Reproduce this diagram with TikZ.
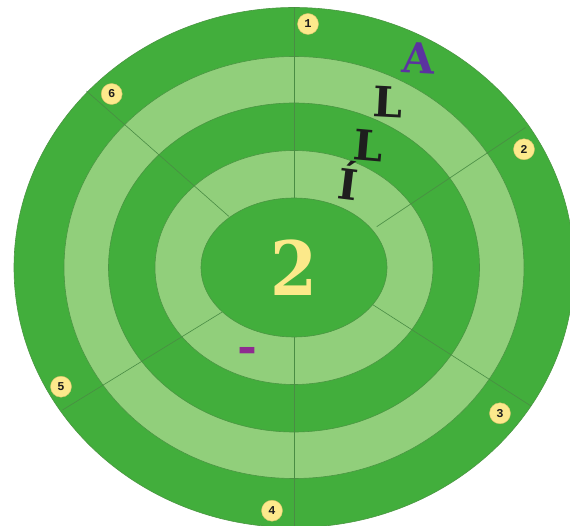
\documentclass[tikz,border=0pt]{standalone}
\usepackage{fontspec}
\newfontfamily\slabfont{DejaVu Serif}
\newfontfamily\discfont{Liberation Mono}
\usepackage{xcolor}
\usepackage{tikz}
\usetikzlibrary{calc, positioning}
\definecolor{darkturf}{HTML}{42AE3C}
\definecolor{lightturf}{HTML}{91CF7B}
\definecolor{rimline}{HTML}{4A9642}
\definecolor{spokeline}{HTML}{4A8C44}
\definecolor{discfill}{HTML}{FDE98C}
\definecolor{discrim}{HTML}{D9C36A}
\definecolor{yolk}{HTML}{FCE98A}
\definecolor{grape}{HTML}{5B33A0}
\definecolor{plum}{HTML}{8E2B90}
\definecolor{ink}{HTML}{1E1E1E}
\tikzset{
  ring/.style={draw=rimline, line width=0.6pt},
  spoke/.style={draw=spokeline, line width=0.6pt},
  numdisc/.style={circle,fill=discfill,draw=discrim,line width=0.4pt,inner sep=0pt,minimum size=21pt,text=ink,font=\discfont\bfseries\fontsize{12}{12}\selectfont},
  ringletter/.style={inner sep=0pt,text=ink,font=\slabfont\bfseries\fontsize{42}{42}\selectfont}
}

\begin{document}
\begin{tikzpicture}[x=1pt, y=-1pt]
  \useasboundingbox (0,0) rectangle (570,526);
  \clip (0,0) rectangle (570,526);
  \coordinate (C) at (294,267.5);
  % rings, outside in
  \filldraw[ring, fill=darkturf] (C) ellipse [x radius=280, y radius=260];
  \filldraw[ring, fill=lightturf] (C) ellipse [x radius=230, y radius=211];
  \filldraw[ring, fill=darkturf] (C) ellipse [x radius=185.5, y radius=164.5];
  \filldraw[ring, fill=lightturf] (C) ellipse [x radius=139, y radius=117];
  % spokes
  \draw[spoke] (294,7.5) -- (294,527.5);
  \draw[spoke] (376.7,226.7) -- (525.5,127.5);
  \draw[spoke] (371.7,304) -- (531,406);
  \draw[spoke] (221.7,312.3) -- (62.5,410);
  \draw[spoke] (229,216.5) -- (86.5,91);
  \filldraw[ring, fill=darkturf] (C) ellipse [x radius=93, y radius=69.5];
  % numbers round the rim
  \node[numdisc] (n1) at (308,24) {1};
  \node[numdisc] (n2) at (524,149.3) {2};
  \node[numdisc] (n3) at (500,413.3) {3};
  \node[numdisc] (n4) at (272,510.7) {4};
  \node[numdisc] (n5) at (61,386.7) {5};
  \node[numdisc] (n6) at (111.7,94) {6};
  % letters
  \node[inner sep=0pt, text=yolk, xscale=0.9, font=\slabfont\bfseries\fontsize{75}{75}\selectfont] (score) at (C) {2};
  \node[ringletter, text=grape, rotate=-3] (la) at (419,58) {A};
  \node[ringletter, rotate=-3] (l1) at (388,102) {L};
  \node[ringletter, rotate=-5] (l2) at (368.5,145.5) {L};
  \node[ringletter, rotate=-7] (li) at (349,180) {Í};
  \node[inner sep=0pt, anchor=base, text=plum, font=\slabfont\bfseries\fontsize{48}{48}\selectfont] (dash) at (247.6,363.5) {-};
\end{tikzpicture}
\end{document}
